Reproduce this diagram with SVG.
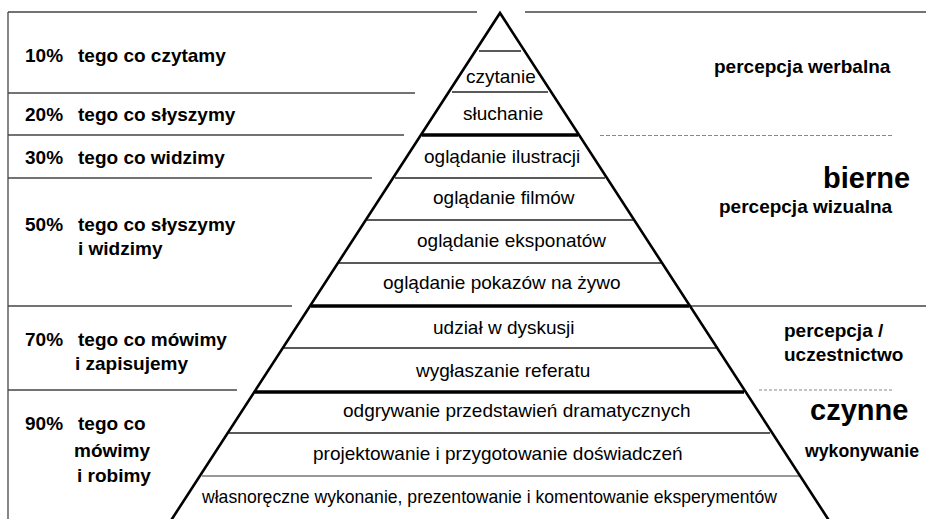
<svg xmlns="http://www.w3.org/2000/svg" width="926" height="519" viewBox="0 0 926 519">
<style>
.t{font-family:"Liberation Sans",Arial,sans-serif;font-size:19px;fill:#000}
.b{font-family:"Liberation Sans",Arial,sans-serif;font-size:19px;font-weight:bold;fill:#000}
.big{font-family:"Liberation Sans",Arial,sans-serif;font-size:29px;font-weight:bold;fill:#000}
.thin{stroke:#222;stroke-width:1.3;fill:none}
.frame{stroke:#444;stroke-width:1.3;fill:none}
.thick{stroke:#000;stroke-width:3.5;fill:none}
.dash{stroke:#888;stroke-width:1.2;stroke-dasharray:4 2;fill:none}
</style>
<rect width="926" height="519" fill="#fff"/>
<g id="connectors">
<line class="frame" x1="8" y1="12" x2="477" y2="12"/>
<line class="frame" x1="525" y1="12" x2="926" y2="12"/>
<line class="frame" x1="8" y1="12" x2="8" y2="519"/>
<line class="frame" x1="8" y1="93" x2="415" y2="93"/>
<line class="frame" x1="8" y1="135" x2="404" y2="135"/>
<line class="frame" x1="8" y1="178" x2="372" y2="178"/>
<line class="frame" x1="8" y1="306" x2="292" y2="306"/>
<line class="frame" x1="8" y1="390" x2="237" y2="390"/>
<line class="frame" x1="690" y1="306" x2="926" y2="306"/>
<line class="dash" x1="600" y1="135.5" x2="892" y2="135.5"/>
<line class="dash" x1="759" y1="390" x2="893" y2="390" style="stroke-dasharray:3 2"/>
<line class="thin" x1="479" y1="51" x2="521" y2="51"/>
<line class="thin" x1="452" y1="92" x2="548" y2="92"/>
<line class="thick" x1="422" y1="135" x2="578" y2="135"/>
<line class="thin" x1="395" y1="178" x2="605" y2="178"/>
<line class="thin" x1="367" y1="220" x2="633" y2="220"/>
<line class="thin" x1="339" y1="263" x2="661" y2="263"/>
<line class="thick" x1="311" y1="306" x2="689" y2="306"/>
<line class="thin" x1="284" y1="348" x2="716" y2="348"/>
<line class="thick" x1="255" y1="392" x2="744" y2="392"/>
<line class="thin" x1="229" y1="433" x2="770" y2="433"/>
<line class="thin" x1="202" y1="476" x2="800" y2="476" style="stroke:#777"/>
</g>
<g id="pyramid">
<polyline points="170,522 500,13 830,522" fill="none" stroke="#000" stroke-width="2.6" stroke-linejoin="miter"/>
</g>
<g id="layer-czytanie"><text class="t" x="466" y="83">czytanie</text></g>
<g id="layer-sluchanie"><text class="t" x="463" y="120">słuchanie</text></g>
<g id="layer-ilustracje"><text class="t" x="424" y="163">oglądanie ilustracji</text></g>
<g id="layer-filmy"><text class="t" x="433" y="204">oglądanie filmów</text></g>
<g id="layer-eksponaty"><text class="t" x="417" y="247">oglądanie eksponatów</text></g>
<g id="layer-pokazy"><text class="t" x="383" y="289">oglądanie pokazów na żywo</text></g>
<g id="layer-dyskusja"><text class="t" x="433" y="334">udział w dyskusji</text></g>
<g id="layer-referat"><text class="t" x="416" y="377">wygłaszanie referatu</text></g>
<g id="layer-odgrywanie"><text class="t" x="343" y="417">odgrywanie przedstawień dramatycznych</text></g>
<g id="layer-projektowanie"><text class="t" x="313" y="460">projektowanie i przygotowanie doświadczeń</text></g>
<g id="layer-wykonanie"><text class="t" x="202" y="503" textLength="575" lengthAdjust="spacingAndGlyphs">własnoręczne wykonanie, prezentowanie i komentowanie eksperymentów</text></g>
<g id="label-10"><text class="b" x="25" y="62">10%</text><text class="b" x="78" y="62">tego co czytamy</text></g>
<g id="label-20"><text class="b" x="25" y="121">20%</text><text class="b" x="78" y="121">tego co słyszymy</text></g>
<g id="label-30"><text class="b" x="25" y="164">30%</text><text class="b" x="78" y="164">tego co widzimy</text></g>
<g id="label-50"><text class="b" x="25" y="231">50%</text><text class="b" x="78" y="231">tego co słyszymy</text><text class="b" x="78" y="255">i widzimy</text></g>
<g id="label-70"><text class="b" x="25" y="346">70%</text><text class="b" x="78" y="346">tego co mówimy</text><text class="b" x="75" y="370">i zapisujemy</text></g>
<g id="label-90"><text class="b" x="25" y="430">90%</text><text class="b" x="78" y="430">tego co</text><text class="b" x="74" y="457">mówimy</text><text class="b" x="77" y="482">i robimy</text></g>
<g id="right-werbalna"><text class="b" x="714" y="73">percepcja werbalna</text></g>
<g id="right-bierne"><text class="big" x="823" y="188">bierne</text></g>
<g id="right-wizualna"><text class="b" x="719" y="213">percepcja wizualna</text></g>
<g id="right-uczestnictwo"><text class="b" x="784" y="337">percepcja /</text><text class="b" x="784" y="361">uczestnictwo</text></g>
<g id="right-czynne"><text class="big" x="810" y="420">czynne</text></g>
<g id="right-wykonywanie"><text class="b" x="805" y="457" font-size="18" textLength="114" lengthAdjust="spacingAndGlyphs">wykonywanie</text></g>
</svg>
